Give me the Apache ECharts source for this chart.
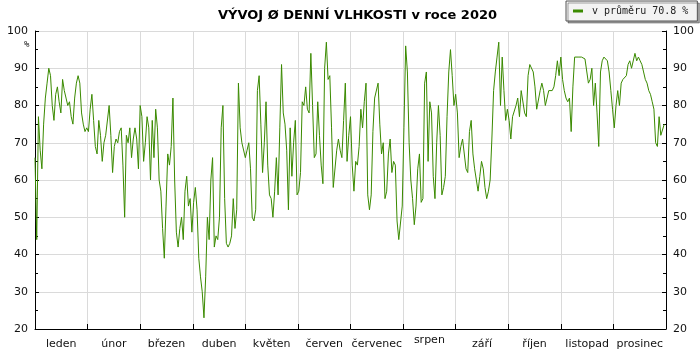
<!DOCTYPE html>
<html>
<head>
<meta charset="utf-8">
<title>Vývoj denní vlhkosti 2020</title>
<script src="https://cdn.jsdelivr.net/npm/echarts@6/dist/echarts.min.js"></script>
<style>
  html, body { margin: 0; padding: 0; background: #fff; }
  #chart { width: 700px; height: 350px; }
</style>
</head>
<body>
<div id="chart"></div>
<script>
// Chart title and legend text
const chartTitle = 'VÝVOJ Ø DENNÍ VLHKOSTI v roce 2020';
const averageHumidity = 70.8;
const legendLabel = 'v průměru ' + averageHumidity.toFixed(1) + ' %';

// Month labels (Czech), one per equal-width segment of the year
const months = ['leden', 'únor', 'březen', 'duben', 'květen', 'červen',
  'červenec', 'srpen', 'září', 'říjen', 'listopad', 'prosinec'];

// Y axis range and step (%)
const yMin = 20, yMax = 100, yStep = 10;

// Daily mean relative humidity in %, 1 Jan .. 31 Dec 2020 (366 days)
const dailyHumidity = [
  66, 44, 77, 68, 63, 75, 82, 86, 90, 88,
  80, 76, 83, 85, 81, 78, 87, 84, 82, 80,
  81, 77, 75, 82, 86, 88, 86, 78, 75, 73,
  74, 73, 79, 83, 76, 69, 67, 76, 72, 65,
  70, 72, 72, 80, 72, 62, 69, 71, 70, 73,
  74, 64, 50, 72, 70, 74, 66, 71, 74, 71,
  63, 80, 77, 65, 70, 77, 74, 60, 76, 66,
  79, 74, 60, 57, 47, 39, 53, 67, 64, 69,
  82, 60, 46, 42, 47, 50, 44, 57, 61, 53,
  55, 46, 54, 58, 52, 39, 34, 30, 23, 34,
  50, 44, 60, 66, 42, 45, 44, 50, 74, 80,
  55, 43, 42, 43, 45, 55, 47, 52, 86, 74,
  70, 70, 66, 68, 70, 63, 50, 49, 52, 84,
  88, 75, 62, 70, 81, 64, 56, 55, 50, 57,
  66, 56, 74, 91, 78, 75, 68, 52, 74, 61,
  70, 76, 56, 57, 62, 81, 80, 85, 79, 78,
  94, 80, 66, 67, 81, 72, 64, 59, 90, 97,
  87, 88, 74, 58, 58, 68, 71, 68, 66, 76,
  86, 65, 72, 77, 64, 57, 65, 64, 69, 79,
  74, 81, 86, 56, 52, 56, 73, 82, 82, 86,
  75, 67, 70, 55, 57, 67, 71, 62, 65, 64,
  49, 44, 44, 53, 74, 96, 89, 70, 60, 55,
  48, 53, 63, 67, 54, 55, 86, 89, 65, 81,
  78, 61, 55, 70, 80, 72, 56, 58, 61, 77,
  89, 95, 88, 80, 83, 78, 66, 69, 71, 71,
  63, 62, 73, 76, 67, 63, 60, 57, 61, 65,
  63, 58, 55, 57, 60, 71, 84, 89, 93, 97,
  80, 93, 84, 76, 79, 76, 71, 77, 77, 80,
  82, 77, 84, 84, 78, 77, 88, 91, 91, 89,
  85, 79, 79, 84, 86, 84, 80, 80, 84, 84,
  84, 85, 88, 92, 88, 93, 87, 84, 82, 81,
  82, 73, 85, 93, 93, 93, 93, 93, 92.5, 92.5,
  92, 86, 87, 90, 80, 86, 78, 69, 89, 92,
  93, 93, 92, 89, 84, 79, 74, 80, 84, 80,
  86, 87, 87, 88, 91, 92, 90, 90, 94, 92,
  93, 92, 91, 89, 87, 86, 84, 83, 81, 79,
  70, 69, 77, 72, 72, 75
];

const daysInYear = dailyHumidity.length;            // 366
const monthSpan = daysInYear / months.length;       // 30.5 days per segment
const seriesData = dailyHumidity.map((v, i) => [i, v]);

const axisColor = '#000';
const gridColor = '#dadada';
const lineColor = '#3a8a00';
const baseFont = 'DejaVu Sans, Verdana, sans-serif';

const chart = echarts.init(document.getElementById('chart'), null, { renderer: 'canvas' });

const yAxisCommon = {
  type: 'value',
  min: yMin,
  max: yMax,
  interval: yStep,
  axisLine: { show: true, lineStyle: { color: axisColor, width: 1 } },
  axisTick: { show: true, inside: true, length: 4, lineStyle: { color: axisColor } },
  minorTick: { show: true, splitNumber: 2, length: 3, lineStyle: { color: axisColor } },
  axisLabel: { color: '#111', fontFamily: baseFont, fontSize: 11, margin: 7 }
};

chart.setOption({
  animation: false,
  backgroundColor: '#fff',
  title: {
    text: chartTitle,
    left: 213,
    top: 4,
    textStyle: { fontFamily: baseFont, fontWeight: 'bold', fontSize: 13, color: '#000' }
  },
  legend: {
    data: [legendLabel],
    left: 566,
    top: 1,
    padding: [5, 9, 5, 7],
    itemWidth: 10,
    itemHeight: 3,
    icon: 'rect',
    backgroundColor: '#f3f3f3',
    borderColor: '#555',
    borderWidth: 1,
    borderRadius: 0,
    shadowColor: 'rgba(0,0,0,0.35)',
    shadowBlur: 0,
    shadowOffsetX: 2,
    shadowOffsetY: 2,
    textStyle: { fontFamily: 'DejaVu Sans Mono, monospace', fontSize: 10, color: '#222', padding: [0, 0, 0, 4] }
  },
  grid: { left: 35, right: 34, top: 31, bottom: 20, containLabel: false },
  xAxis: [
    {
      type: 'value',
      min: 0,
      max: daysInYear,
      interval: monthSpan,
      axisLine: { show: true, onZero: false, lineStyle: { color: axisColor, width: 1 } },
      axisTick: { show: true, inside: true, length: 5, lineStyle: { color: axisColor } },
      axisLabel: { show: false },
      splitLine: { show: true, lineStyle: { color: gridColor, width: 1 } }
    },
    {
      type: 'category',
      data: months,
      position: 'bottom',
      boundaryGap: true,
      axisLine: { show: false },
      axisTick: { show: false },
      splitLine: { show: false },
      axisLabel: {
        interval: 0,
        margin: 6,
        color: '#111',
        fontFamily: baseFont,
        fontSize: 11,
        formatter: function (name) {
          return name === 'srpen' ? '{hi|' + name + '}' : '{n|' + name + '}';
        },
        rich: {
          n: { fontFamily: baseFont, fontSize: 11, color: '#111', padding: [4, 0, 0, 0] },
          hi: { fontFamily: baseFont, fontSize: 11, color: '#111', padding: [0, 0, 0, 0] }
        }
      }
    }
  ],
  yAxis: [
    Object.assign({}, yAxisCommon, {
      position: 'left',
      splitLine: { show: true, lineStyle: { color: gridColor, width: 1 } }
    }),
    Object.assign({}, yAxisCommon, {
      position: 'right',
      splitLine: { show: false }
    })
  ],
  graphic: [
    {
      type: 'text',
      left: 24,
      top: 40,
      style: { text: '%', fill: '#111', font: '9px DejaVu Sans Mono, monospace' }
    }
  ],
  series: [
    {
      name: legendLabel,
      type: 'line',
      xAxisIndex: 0,
      yAxisIndex: 0,
      data: seriesData,
      showSymbol: false,
      symbol: 'none',
      smooth: false,
      lineStyle: { color: lineColor, width: 1 },
      itemStyle: { color: lineColor }
    }
  ]
});
</script>
</body>
</html>
